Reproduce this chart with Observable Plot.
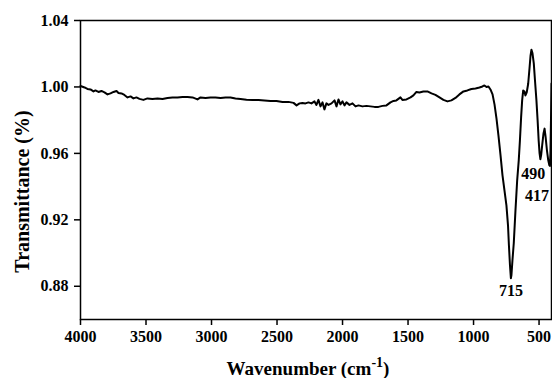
<!DOCTYPE html>
<html>
<head>
<meta charset="utf-8">
<script src="https://cdn.jsdelivr.net/npm/d3@7"></script>
<script src="https://cdn.jsdelivr.net/npm/@observablehq/plot@0.6"></script>
<style>
  html, body { margin: 0; padding: 0; background: #fff; }
  #chart svg { display: block; }
</style>
</head>
<body>
<div id="chart"></div>
<script>
// FTIR spectrum: wavenumber (cm-1) and transmittance
const wavenumber = [
  4000,3969,3947,3924,3901,3886,3863,3840,3817,3794,
  3771,3748,3725,3710,3687,3665,3641,3618,3596,3573,
  3550,3520,3489,3451,3412,3374,3336,3298,3260,3221,
  3183,3145,3107,3084,3046,3008,2970,2931,2893,2855,
  2817,2779,2733,2687,2641,2596,2550,2504,2458,2412,
  2374,2351,2328,2306,2283,2260,2237,2214,2199,2184,
  2168,2153,2138,2123,2107,2084,2061,2046,2031,2016,
  2000,1985,1970,1947,1924,1901,1878,1848,1817,1787,
  1756,1726,1695,1665,1634,1611,1589,1558,1543,1512,
  1481,1459,1436,1413,1383,1352,1321,1291,1260,1230,
  1199,1169,1138,1108,1077,1047,1016,985,955,932,
  917,901,886,871,855,840,825,810,794,779,
  764,749,737,730,722,715,711,703,693,680,
  667,655,646,637,629,621,611,604,594,583,
  573,565,558,550,540,531,520,511,503,496,
  490,484,476,466,458,450,440,430,422,417,
  413,409,405
];
const transmittance = [
  1.0006,0.9997,0.9988,0.9985,0.9973,0.9979,0.9970,0.9976,0.9967,0.9955,
  0.9961,0.9970,0.9976,0.9964,0.9961,0.9952,0.9937,0.9943,0.9931,0.9937,
  0.9928,0.9922,0.9931,0.9928,0.9931,0.9928,0.9934,0.9937,0.9937,0.9940,
  0.9940,0.9937,0.9925,0.9937,0.9934,0.9937,0.9937,0.9934,0.9937,0.9937,
  0.9931,0.9928,0.9923,0.9922,0.9922,0.9919,0.9916,0.9916,0.9910,0.9910,
  0.9904,0.9889,0.9901,0.9904,0.9901,0.9907,0.9901,0.9913,0.9892,0.9922,
  0.9883,0.9907,0.9865,0.9901,0.9892,0.9901,0.9919,0.9883,0.9925,0.9895,
  0.9913,0.9889,0.9907,0.9892,0.9901,0.9883,0.9889,0.9883,0.9886,0.9883,
  0.9880,0.9880,0.9886,0.9889,0.9907,0.9916,0.9919,0.9937,0.9922,0.9925,
  0.9937,0.9949,0.9970,0.9967,0.9973,0.9973,0.9961,0.9952,0.9937,0.9922,
  0.9913,0.9919,0.9934,0.9955,0.9973,0.9979,0.9988,0.9991,0.9997,1.0003,
  1.0009,1.0000,1.0003,0.9985,0.9955,0.9895,0.9811,0.9708,0.9588,0.9468,
  0.9378,0.9287,0.9167,0.9047,0.8927,0.8848,0.8866,0.8957,0.9059,0.9257,
  0.9438,0.9558,0.9678,0.9817,0.9919,0.9979,0.9973,0.9949,0.9967,1.0019,
  1.0111,1.0189,1.0224,1.0202,1.0140,1.0039,0.9919,0.9799,0.9678,0.9600,
  0.9565,0.9590,0.9650,0.9720,0.9749,0.9700,0.9620,0.9560,0.9530,0.9525,
  0.9600,0.9800,1.0021
];

// Band positions annotated on the spectrum
const peakWavenumbers = [715, 490, 417];
const peakLabels = ["715", "490", "417"];

// Axis ticks
const xTicks = [4000, 3500, 3000, 2500, 2000, 1500, 1000, 500];
const yTicks = [0.88, 0.92, 0.96, 1.00, 1.04];

const spectrum = wavenumber.map((w, i) => ({w, t: transmittance[i]}));
const tAt = w => spectrum.find(d => d.w === w).t;
const peaks = peakWavenumbers.map((w, i) => ({w, t: tAt(w), label: peakLabels[i]}));

const font = "'Liberation Serif', 'Times New Roman', serif";

const peakText = (label, dx, dy) => Plot.text(peaks.filter(d => d.label === label), {
  x: "w", y: "t", text: "label", dx, dy,
  fontSize: 16, fontWeight: "bold", fill: "black"
});

const chart = Plot.plot({
  width: 552,
  height: 378,
  marginLeft: 80,
  marginRight: 1,
  marginTop: 20,
  marginBottom: 59,
  style: {fontFamily: font, fontSize: "16px", fontWeight: "bold", color: "black", background: "white"},
  x: {domain: [4000, 405], range: [80, 551]},
  y: {domain: [0.86, 1.04]},
  marks: [
    Plot.axisX({ticks: xTicks, tickSize: 6, tickPadding: 5, tickFormat: d3.format("d"), label: null, strokeWidth: 1.5}),
    Plot.axisY({ticks: yTicks, tickSize: 6, tickPadding: 6, tickFormat: d3.format(".2f"), label: null, strokeWidth: 1.5}),
    Plot.frame({stroke: "black", strokeWidth: 1.5}),
    Plot.line(spectrum, {x: "w", y: "t", stroke: "black", strokeWidth: 2, strokeLinejoin: "round"}),
    peakText("715", 0, 13),
    peakText("490", -7, 15),
    peakText("417", -13, 30)
  ]
});

// Axis titles (the x title carries a superscript)
const svg = d3.select(chart);
const xTitle = svg.append("text")
  .attr("x", 308).attr("y", 375)
  .attr("text-anchor", "middle")
  .style("font-family", font).style("font-weight", "bold").style("font-size", "19px")
  .attr("fill", "black");
xTitle.append("tspan").text("Wavenumber (cm");
xTitle.append("tspan").attr("dy", -8).style("font-size", "14px").text("-1");
xTitle.append("tspan").attr("dy", 8).text(")");

svg.append("text")
  .attr("transform", "translate(28.5,191.5) rotate(-90)")
  .attr("text-anchor", "middle")
  .style("font-family", font).style("font-weight", "bold").style("font-size", "20px")
  .attr("fill", "black")
  .text("Transmittance (%)");

document.getElementById("chart").appendChild(chart);
</script>
</body>
</html>
